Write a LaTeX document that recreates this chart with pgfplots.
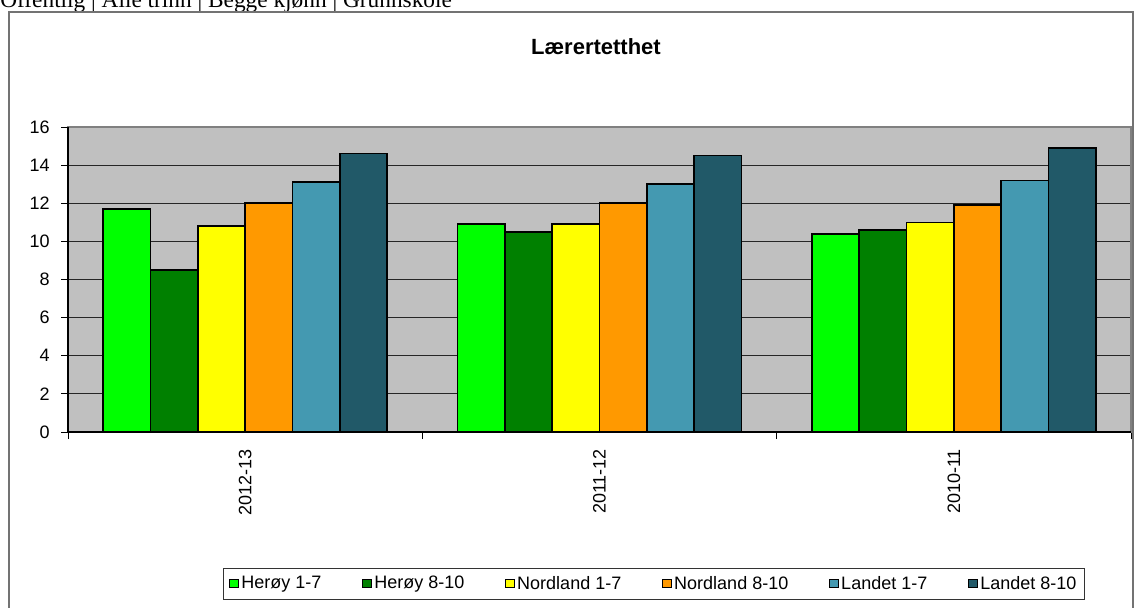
\documentclass[border=0pt]{standalone}
\usepackage{pgfplots}
\usepackage{pgfplotstable}
\pgfplotsset{compat=1.18}
\usepackage{fontspec}
\setmainfont{Liberation Sans}
\newfontfamily\timesfont{Liberation Serif}
\definecolor{c1}{HTML}{00FF00}
\definecolor{c2}{HTML}{008000}
\definecolor{c3}{HTML}{FFFF00}
\definecolor{c4}{HTML}{FF9900}
\definecolor{c5}{HTML}{4499B1}
\definecolor{c6}{HTML}{215968}
\definecolor{bgray}{HTML}{C0C0C0}
\pgfplotstableread{
x a b c d e f
0 11.7 8.5 10.8 12.0 13.1 14.6
1 10.9 10.5 10.9 12.0 13.0 14.5
2 10.4 10.6 11.0 11.9 13.2 14.9
}\data
\pgfplotsset{mylegend/.style={legend image code/.code={\draw[##1,draw=black,line width=0.6pt] (0pt,-3.3pt) rectangle (6.6pt,3.3pt);}}}
\begin{document}
\begin{tikzpicture}
\begin{scope}[x=0.75pt,y=0.75pt]
\useasboundingbox (0,0) rectangle (1134,607);
\clip (0,0) rectangle (1134,607);
\node[anchor=base west, inner sep=0, font=\timesfont\fontsize{17.5}{20}\selectfont] at (0,599.5) {Offentlig | Alle trinn | Begge kjønn | Grunnskole};
\draw[black!55, line width=1.1pt] (9,-10) -- (9,595) -- (1133,595) -- (1133,-10);
\node[font=\bfseries\fontsize{16.5}{20}\selectfont] at (596,560) {Lærertetthet};
\end{scope}
\begin{axis}[at={(51pt,131.25pt)}, anchor=south west, scale only axis,
  width=797.25pt, height=228.75pt,
  ybar=0pt, bar width=35.5pt,
  xmin=-0.5, xmax=2.5, ymin=0, ymax=16,
  ytick={0,2,...,16},
  xtick={0,1,2}, xticklabels={2012-13,2011-12,2010-11},
  x tick label style={rotate=90, anchor=east, inner xsep=7.5pt},
  y tick label style={xshift=-5pt},
  major x tick style={draw=none},
  minor xtick={-0.5,0.5,1.5,2.5},
  minor tick length=5.25pt, major tick length=5.25pt,
  tick align=outside, xtick pos=bottom, ytick pos=left,
  tick style={black, line width=0.6pt},
  ymajorgrids, grid style={black!85, line width=0.6pt},
  axis background/.style={fill=bgray},
  axis line style={draw=black!50, line width=0.8pt},
  ticklabel style={font=\fontsize{13.5}{16}\selectfont},
  /pgf/number format/assume math mode=true,
  legend style={at={(0.5513,-0.4967)}, anchor=center, legend columns=6,
    draw=black!80, line width=0.6pt, font=\fontsize{13.5}{16}\selectfont,
    /tikz/every even column/.append style={column sep=28.5pt},
    inner xsep=4pt, inner ysep=4pt},
  legend cell align=left,
  clip=false,
]
\addplot[fill=c1, draw=black, line width=1.2pt, mylegend] table[x=x,y=a]{\data};
\addplot[fill=c2, draw=black, line width=1.2pt, mylegend] table[x=x,y=b]{\data};
\addplot[fill=c3, draw=black, line width=1.2pt, mylegend] table[x=x,y=c]{\data};
\addplot[fill=c4, draw=black, line width=1.2pt, mylegend] table[x=x,y=d]{\data};
\addplot[fill=c5, draw=black, line width=1.2pt, mylegend] table[x=x,y=e]{\data};
\addplot[fill=c6, draw=black, line width=1.2pt, mylegend] table[x=x,y=f]{\data};
\legend{Herøy 1-7, Herøy 8-10, Nordland 1-7, Nordland 8-10, Landet 1-7, Landet 8-10}
\draw[black, line width=0.8pt] (rel axis cs:0,1) -- (rel axis cs:0,0) -- (rel axis cs:1,0);
\end{axis}
\end{tikzpicture}
\end{document}
